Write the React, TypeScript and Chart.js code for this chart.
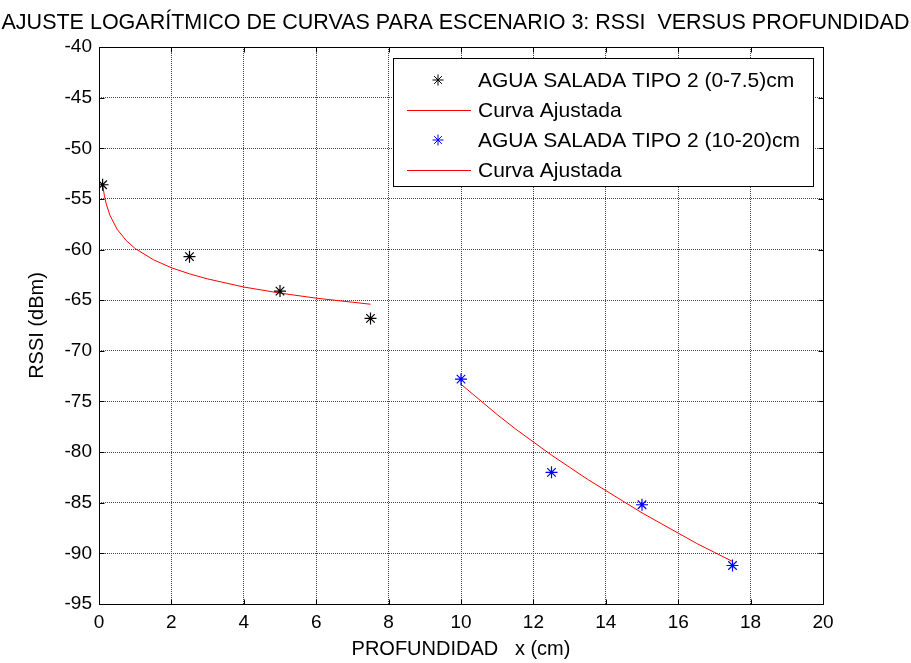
import React, { useEffect, useRef } from 'react';
import { Chart, registerables } from 'chart.js';

Chart.register(...registerables);

const chartTitle = 'AJUSTE LOGARÍTMICO DE CURVAS PARA ESCENARIO 3: RSSI  VERSUS PROFUNDIDAD';
const xAxisTitle = 'PROFUNDIDAD   x (cm)';
const yAxisTitle = 'RSSI (dBm)';
const seriesLabels = [
  'AGUA SALADA TIPO 2 (0-7.5)cm',
  'Curva Ajustada',
  'AGUA SALADA TIPO 2 (10-20)cm',
  'Curva Ajustada',
];

const shallowDepth = [0.1, 2.5, 5, 7.5];
const shallowRssi = [-53.6, -60.7, -64.1, -66.8];
const shallowFitDepth = [0.1, 0.15, 0.2, 0.3, 0.5, 0.75, 1, 1.5, 2, 2.5, 3, 4, 5, 6, 7, 7.5];
const shallowFitRssi = [-53.6, -54.7, -55.5, -56.6, -58.0, -59.1, -59.9, -61.0, -61.8, -62.4, -62.9, -63.7, -64.3, -64.8, -65.2, -65.4];

const deepDepth = [10, 12.5, 15, 17.5];
const deepRssi = [-72.8, -82.0, -85.2, -91.2];
const deepFitDepth = [10, 10.5, 11, 11.5, 12, 12.5, 13, 13.5, 14, 14.5, 15, 15.5, 16, 16.5, 17, 17.5];
const deepFitRssi = [-73.3, -74.8, -76.3, -77.7, -79.0, -80.3, -81.5, -82.7, -83.8, -84.9, -86.0, -87.0, -88.0, -89.0, -89.9, -90.8];

const xMin = 0;
const xMax = 20;
const xStep = 2;
const yMin = -95;
const yMax = -40;
const yStep = 5;

const FONT = 'Arial, "Liberation Sans", Helvetica, sans-serif';

const toPoints = (xs: number[], ys: number[]) => xs.map((x, i) => ({ x, y: ys[i] }));

function drawStar(ctx: CanvasRenderingContext2D, cx: number, cy: number, r: number, color: string) {
  ctx.save();
  ctx.strokeStyle = color;
  ctx.lineWidth = 1;
  ctx.beginPath();
  const d = r * Math.SQRT1_2;
  ctx.moveTo(cx - r, cy);
  ctx.lineTo(cx + r, cy);
  ctx.moveTo(cx, cy - r);
  ctx.lineTo(cx, cy + r);
  ctx.moveTo(cx - d, cy - d);
  ctx.lineTo(cx + d, cy + d);
  ctx.moveTo(cx - d, cy + d);
  ctx.lineTo(cx + d, cy - d);
  ctx.stroke();
  ctx.restore();
}

const framePlugin = {
  id: 'matlabFrame',
  afterDatasetsDraw(chart: any) {
    const { ctx, chartArea } = chart;
    const { left, right, top, bottom } = chartArea;
    const xs = chart.scales.x;
    const ys = chart.scales.y;
    const a = (v: number) => Math.round(v) + 0.5;
    ctx.save();
    ctx.strokeStyle = '#000';
    ctx.lineWidth = 1;
    ctx.setLineDash([]);
    ctx.beginPath();
    const L = a(left), R = a(right), T = a(top), B = a(bottom);
    ctx.rect(L, T, R - L, B - T);
    const tl = 5;
    xs.ticks.forEach((t: any) => {
      const p = a(xs.getPixelForValue(t.value));
      ctx.moveTo(p, B);
      ctx.lineTo(p, B - tl);
      ctx.moveTo(p, T);
      ctx.lineTo(p, T + tl);
    });
    ys.ticks.forEach((t: any) => {
      const p = a(ys.getPixelForValue(t.value));
      ctx.moveTo(L, p);
      ctx.lineTo(L + tl, p);
      ctx.moveTo(R, p);
      ctx.lineTo(R - tl, p);
    });
    ctx.stroke();
    ctx.restore();
  },
};

const legendPlugin = {
  id: 'boxLegend',
  afterDraw(chart: any) {
    const { ctx } = chart;
    const boxL = 393.5, boxT = 58.5, boxW = 420, boxH = 128;
    const rows = [80, 110, 140, 170];
    ctx.save();
    ctx.fillStyle = '#fff';
    ctx.fillRect(boxL, boxT, boxW, boxH);
    ctx.strokeStyle = '#000';
    ctx.lineWidth = 1;
    ctx.setLineDash([]);
    ctx.strokeRect(boxL, boxT, boxW, boxH);
    ctx.font = '21px ' + FONT;
    ctx.textBaseline = 'middle';
    ctx.textAlign = 'left';
    chart.data.datasets.forEach((ds: any, i: number) => {
      const y = rows[i];
      if (ds.showLine) {
        ctx.strokeStyle = ds.borderColor;
        ctx.lineWidth = 1;
        ctx.beginPath();
        ctx.moveTo(407, Math.round(y) + 0.5);
        ctx.lineTo(471, Math.round(y) + 0.5);
        ctx.stroke();
      } else {
        drawStar(ctx, 438, y, 5.5, ds.borderColor);
      }
      ctx.fillStyle = '#000';
      ctx.fillText(ds.label, 478, y + 1);
    });
    ctx.restore();
  },
};

export default function App() {
  const canvasRef = useRef<HTMLCanvasElement | null>(null);

  useEffect(() => {
    const canvas = canvasRef.current;
    if (!canvas) return;
    const gridOpts = {
      display: true,
      color: '#444',
      lineWidth: 1,
      drawTicks: false,
    };
    const chart = new Chart(canvas, {
      type: 'scatter',
      data: {
        datasets: [
          {
            label: seriesLabels[0],
            data: toPoints(shallowDepth, shallowRssi),
            borderColor: '#000000',
            backgroundColor: '#000000',
            pointStyle: 'star',
            pointRadius: 6,
            pointBorderWidth: 1.2,
            showLine: false,
          },
          {
            label: seriesLabels[1],
            data: toPoints(shallowFitDepth, shallowFitRssi),
            borderColor: '#ff0000',
            backgroundColor: '#ff0000',
            borderWidth: 1,
            pointRadius: 0,
            showLine: true,
            tension: 0,
          },
          {
            label: seriesLabels[2],
            data: toPoints(deepDepth, deepRssi),
            borderColor: '#0000ff',
            backgroundColor: '#0000ff',
            pointStyle: 'star',
            pointRadius: 6,
            pointBorderWidth: 1.2,
            showLine: false,
          },
          {
            label: seriesLabels[3],
            data: toPoints(deepFitDepth, deepFitRssi),
            borderColor: '#ff0000',
            backgroundColor: '#ff0000',
            borderWidth: 1,
            pointRadius: 0,
            showLine: true,
            tension: 0,
          },
        ],
      },
      options: {
        responsive: false,
        animation: false,
        devicePixelRatio: 1,
        layout: { padding: { left: 0, right: 0, top: 0, bottom: 0 } },
        plugins: {
          legend: { display: false },
          tooltip: { enabled: false },
          title: {
            display: true,
            text: chartTitle,
            color: '#000',
            font: { family: FONT, size: 21.5, weight: 'normal', lineHeight: 1.2 },
            padding: { top: 9.8, bottom: 11.4 },
          },
        },
        scales: {
          x: {
            type: 'linear',
            min: xMin,
            max: xMax,
            grid: { ...gridOpts },
            border: { display: false, dash: [1, 1] },
            ticks: {
              stepSize: xStep,
              color: '#000',
              padding: 7,
              font: { family: FONT, size: 19 },
              maxRotation: 0,
            },
            title: {
              display: true,
              text: xAxisTitle,
              color: '#000',
              font: { family: FONT, size: 20 },
              padding: { top: 0, bottom: 2 },
            },
            afterFit: (scale: any) => {
              scale.height = 59;
            },
          },
          y: {
            type: 'linear',
            min: yMin,
            max: yMax,
            grid: { ...gridOpts },
            border: { display: false, dash: [1, 1] },
            ticks: {
              stepSize: yStep,
              color: '#000',
              padding: 7,
              font: { family: FONT, size: 19 },
            },
            title: {
              display: true,
              text: yAxisTitle,
              color: '#000',
              font: { family: FONT, size: 20 },
              padding: { top: 25, bottom: 0 },
            },
            afterFit: (scale: any) => {
              scale.width = 99;
            },
          },
          yRightSpacer: {
            type: 'linear',
            position: 'right',
            min: yMin,
            max: yMax,
            display: true,
            grid: { display: false, drawTicks: false },
            border: { display: false },
            ticks: { display: false },
            title: { display: false },
            afterFit: (scale: any) => {
              scale.width = 88;
            },
          },
        },
      },
      plugins: [framePlugin, legendPlugin],
    } as any);
    return () => chart.destroy();
  }, []);

  return (
    <div style={{ position: 'absolute', left: 0, top: 0, width: 911, height: 663, background: '#fff' }}>
      <canvas ref={canvasRef} width={911} height={663} style={{ display: 'block', width: 911, height: 663 }} />
    </div>
  );
}
